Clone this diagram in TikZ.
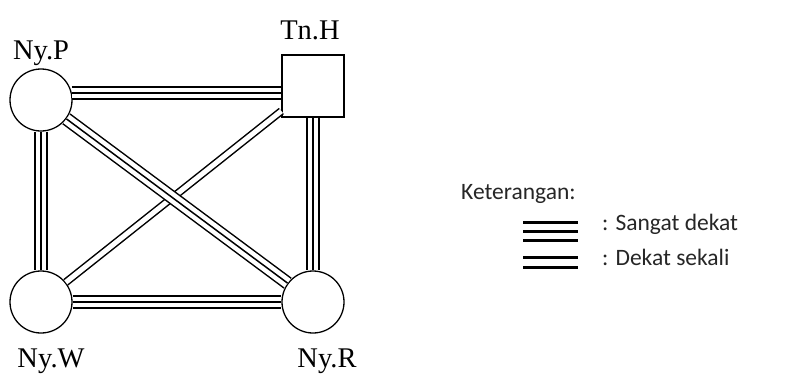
\documentclass[tikz,border=0pt]{standalone}
\usepackage{fontspec}
\setmainfont{Liberation Serif}
\newfontfamily\legendfont{Carlito}

\tikzstyle{person}=[circle, minimum size = 62pt, inner sep = 0pt, draw, line width = 1.3pt]
\tikzstyle{hbox}=[rectangle, minimum size = 62pt, inner sep = 0pt, draw, line width = 1.3pt]
\tikzstyle{plabel}=[anchor = base, inner sep = 0pt, font = \fontsize{28.5}{30}\selectfont]
\tikzstyle{triple}=[preaction = {draw, line width = 13.5pt}, preaction = {draw, white, line width = 10.5pt}, draw, line width = 1.5pt]
\tikzstyle{twin}=[draw, double, double distance = 5pt, line width = 1.5pt]
\tikzstyle{keytriple}=[preaction = {draw, line width = 21pt}, preaction = {draw, white, line width = 15pt}, draw, line width = 3pt]
\tikzstyle{keytwin}=[draw, double, double distance = 7pt, line width = 3pt]
\tikzstyle{keytext}=[anchor = base west, inner sep = 0pt, text = black!85, font = \legendfont\fontsize{23.5}{25}\selectfont]

\begin{document}
\begin{tikzpicture}[x = 1pt, y = -1pt]
    \useasboundingbox (0, 0) rectangle (792, 373);

    \node[person] (P) at (41, 100) {};
    \node[hbox]   (H) at (313, 86)  {};
    \node[person] (W) at (41, 302)  {};
    \node[person] (R) at (313, 302) {};

    \node[plabel] (nP) at (41, 59)  {Ny.P};
    \node[plabel] (nH) at (310, 39) {Tn.H};
    \node[plabel] (nW) at (51, 367) {Ny.W};
    \node[plabel] (nR) at (327, 367) {Ny.R};

    \draw[triple] (P.13) -- (P.13 -| H.west);
    \draw[triple] (P) -- (W);
    \draw[triple] (H) -- (R);
    \draw[triple] (W) -- (R);
    \draw[twin]   (W) -- (H);
    \draw[triple] (P) -- (R);

    % legend
    \node[keytext] (key) at (461, 199) {Keterangan:};
    \coordinate (k1a) at (523, 231);
    \coordinate (k1b) at (578, 231);
    \coordinate (k2a) at (523, 262);
    \coordinate (k2b) at (578, 262);
    \draw[keytriple] (k1a) -- (k1b);
    \draw[keytwin]   (k2a) -- (k2b);
    \node[keytext] (k1) at (602, 230) {: Sangat dekat};
    \node[keytext] (k2) at (602, 265) {: Dekat sekali};
\end{tikzpicture}
\end{document}
